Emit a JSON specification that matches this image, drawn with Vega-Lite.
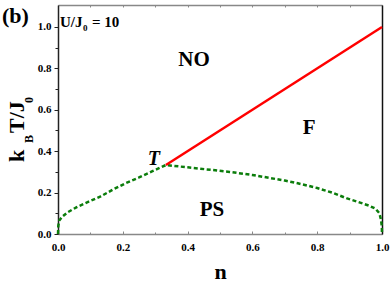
{
  "$schema": "https://vega.github.io/schema/vega-lite/v6.json",
  "autosize": {"type": "none"},
  "padding": {"left": 58, "top": 5, "right": 8, "bottom": 48},
  "width": 324,
  "height": 229,
  "background": "white",
  "view": {"stroke": null},
  "config": {"font": "Liberation Serif"},
  "datasets": {
    "boundary": [
      {"n": 0.0, "v": 0.0}, {"n": 0.001, "v": 0.04}, {"n": 0.004, "v": 0.065}, {"n": 0.012, "v": 0.082},
      {"n": 0.03, "v": 0.105}, {"n": 0.058, "v": 0.13}, {"n": 0.1, "v": 0.16}, {"n": 0.13, "v": 0.18},
      {"n": 0.17, "v": 0.215}, {"n": 0.21, "v": 0.246}, {"n": 0.25, "v": 0.273}, {"n": 0.29, "v": 0.302},
      {"n": 0.333, "v": 0.333}, {"n": 0.4, "v": 0.322}, {"n": 0.53, "v": 0.3}, {"n": 0.6, "v": 0.285},
      {"n": 0.7, "v": 0.258}, {"n": 0.74, "v": 0.245}, {"n": 0.8, "v": 0.222}, {"n": 0.85, "v": 0.198},
      {"n": 0.89, "v": 0.173}, {"n": 0.93, "v": 0.153}, {"n": 0.96, "v": 0.137}, {"n": 0.98, "v": 0.122},
      {"n": 0.992, "v": 0.1}, {"n": 0.997, "v": 0.068}, {"n": 0.9995, "v": 0.035}, {"n": 1.0, "v": 0.0}
    ],
    "ferro": [{"n": 0.333, "v": 0.333}, {"n": 1.0, "v": 1.0}],
    "regions": [
      {"label": "NO", "n": 0.42, "v": 0.84},
      {"label": "F", "n": 0.775, "v": 0.51},
      {"label": "PS", "n": 0.475, "v": 0.116}
    ],
    "point": [{"label": "T", "n": 0.296, "v": 0.36}],
    "panel": [{"label": "(b)", "n": -0.173, "v": 1.019}],
    "param": [{"label": "U/J", "n": 0.006, "v": 1.0}, {"label": "= 10", "n": 0.105, "v": 1.0}],
    "paramSub": [{"label": "0", "n": 0.077, "v": 0.981}],
    "ytitle": [{"label": "k", "n": -0.105, "v": 0.348}, {"label": "T/J", "n": -0.105, "v": 0.488}],
    "ytitleSub": [{"label": "B", "n": -0.077, "v": 0.44}, {"label": "0", "n": -0.077, "v": 0.633}]
  },
  "resolve": {"axis": {"x": "independent", "y": "independent"}},
  "layer": [
    {
      "data": {"name": "boundary"},
      "mark": {"type": "line", "color": "#0b7d0b", "strokeWidth": 2.5, "strokeDash": [4, 2.5]},
      "encoding": {
        "x": {"field": "n", "type": "quantitative",
              "scale": {"domain": [0, 1], "nice": false, "zero": false},
              "axis": {"orient": "bottom", "title": "n", "titleFont": "Liberation Serif", "titleFontWeight": "bold",
                       "titleFontSize": 22, "titleColor": "black", "titleBaseline": "alphabetic", "titleY": 44,
                       "values": [0, 0.1, 0.2, 0.3, 0.4, 0.5, 0.6, 0.7, 0.8, 0.9, 1.0],
                       "labelExpr": "round(datum.value*10) % 2 == 0 ? format(datum.value, '.1f') : ''",
                       "labelFont": "Liberation Serif", "labelFontWeight": "bold", "labelFontSize": 11, "labelColor": "black",
                       "labelPadding": 10, "labelFlush": false,
                       "domainColor": "#888888", "domainWidth": 1.5, "tickColor": "#888888", "tickWidth": 1,
                       "tickSize": {"condition": {"test": "round(datum.value*10) % 2 == 1", "value": -2}, "value": -3},
                       "grid": false}},
        "y": {"field": "v", "type": "quantitative",
              "scale": {"domain": [0, 1.106], "nice": false, "zero": false},
              "axis": {"orient": "left", "title": null,
                       "values": [0, 0.1, 0.2, 0.3, 0.4, 0.5, 0.6, 0.7, 0.8, 0.9, 1.0],
                       "labelExpr": "round(datum.value*10) % 2 == 0 ? format(datum.value, '.1f') : ''",
                       "labelFont": "Liberation Serif", "labelFontWeight": "bold", "labelFontSize": 11, "labelColor": "black",
                       "labelPadding": 3, "labelFlush": false,
                       "domainColor": "#222222", "domainWidth": 1.5, "tickColor": "#222222", "tickWidth": 1,
                       "tickSize": {"condition": {"test": "round(datum.value*10) % 2 == 1", "value": 3}, "value": 4},
                       "grid": false}}
      }
    },
    {
      "data": {"name": "ferro"},
      "mark": {"type": "line", "color": "#ff0000", "strokeWidth": 2.5},
      "encoding": {
        "x": {"field": "n", "type": "quantitative",
              "axis": {"orient": "top", "title": null, "labels": false,
                       "values": [0, 0.1, 0.2, 0.3, 0.4, 0.5, 0.6, 0.7, 0.8, 0.9, 1.0],
                       "domainColor": "#888888", "domainWidth": 1.5, "tickColor": "#888888", "tickSize": -2, "grid": false}},
        "y": {"field": "v", "type": "quantitative",
              "axis": {"orient": "right", "title": null, "labels": false, "ticks": false,
                       "domainColor": "#111111", "domainWidth": 1.5, "grid": false}}
      }
    },
    {
      "data": {"name": "regions"},
      "mark": {"type": "text", "font": "Liberation Serif", "fontWeight": "bold", "fontSize": 21, "color": "black", "align": "center", "baseline": "middle"},
      "encoding": {"x": {"field": "n", "type": "quantitative", "axis": null}, "y": {"field": "v", "type": "quantitative", "axis": null}, "text": {"field": "label"}}
    },
    {
      "data": {"name": "point"},
      "mark": {"type": "text", "font": "Liberation Serif", "fontWeight": "bold", "fontStyle": "italic", "fontSize": 20, "color": "black", "align": "center", "baseline": "middle"},
      "encoding": {"x": {"field": "n", "type": "quantitative", "axis": null}, "y": {"field": "v", "type": "quantitative", "axis": null}, "text": {"field": "label"}}
    },
    {
      "data": {"name": "panel"},
      "mark": {"type": "text", "font": "Liberation Serif", "fontWeight": "bold", "fontSize": 22, "color": "black", "align": "left", "baseline": "alphabetic"},
      "encoding": {"x": {"field": "n", "type": "quantitative", "axis": null}, "y": {"field": "v", "type": "quantitative", "axis": null}, "text": {"field": "label"}}
    },
    {
      "data": {"name": "param"},
      "mark": {"type": "text", "font": "Liberation Serif", "fontWeight": "bold", "fontSize": 15, "color": "black", "align": "left", "baseline": "alphabetic"},
      "encoding": {"x": {"field": "n", "type": "quantitative", "axis": null}, "y": {"field": "v", "type": "quantitative", "axis": null}, "text": {"field": "label"}}
    },
    {
      "data": {"name": "paramSub"},
      "mark": {"type": "text", "font": "Liberation Serif", "fontWeight": "bold", "fontSize": 9, "color": "black", "align": "left", "baseline": "alphabetic"},
      "encoding": {"x": {"field": "n", "type": "quantitative", "axis": null}, "y": {"field": "v", "type": "quantitative", "axis": null}, "text": {"field": "label"}}
    },
    {
      "data": {"name": "ytitle"},
      "mark": {"type": "text", "font": "Liberation Serif", "fontWeight": "bold", "fontSize": 22, "color": "black", "align": "left", "baseline": "alphabetic", "angle": 270},
      "encoding": {"x": {"field": "n", "type": "quantitative", "axis": null}, "y": {"field": "v", "type": "quantitative", "axis": null}, "text": {"field": "label"}}
    },
    {
      "data": {"name": "ytitleSub"},
      "mark": {"type": "text", "font": "Liberation Serif", "fontWeight": "bold", "fontSize": 12, "color": "black", "align": "left", "baseline": "alphabetic", "angle": 270},
      "encoding": {"x": {"field": "n", "type": "quantitative", "axis": null}, "y": {"field": "v", "type": "quantitative", "axis": null}, "text": {"field": "label"}}
    }
  ]
}
